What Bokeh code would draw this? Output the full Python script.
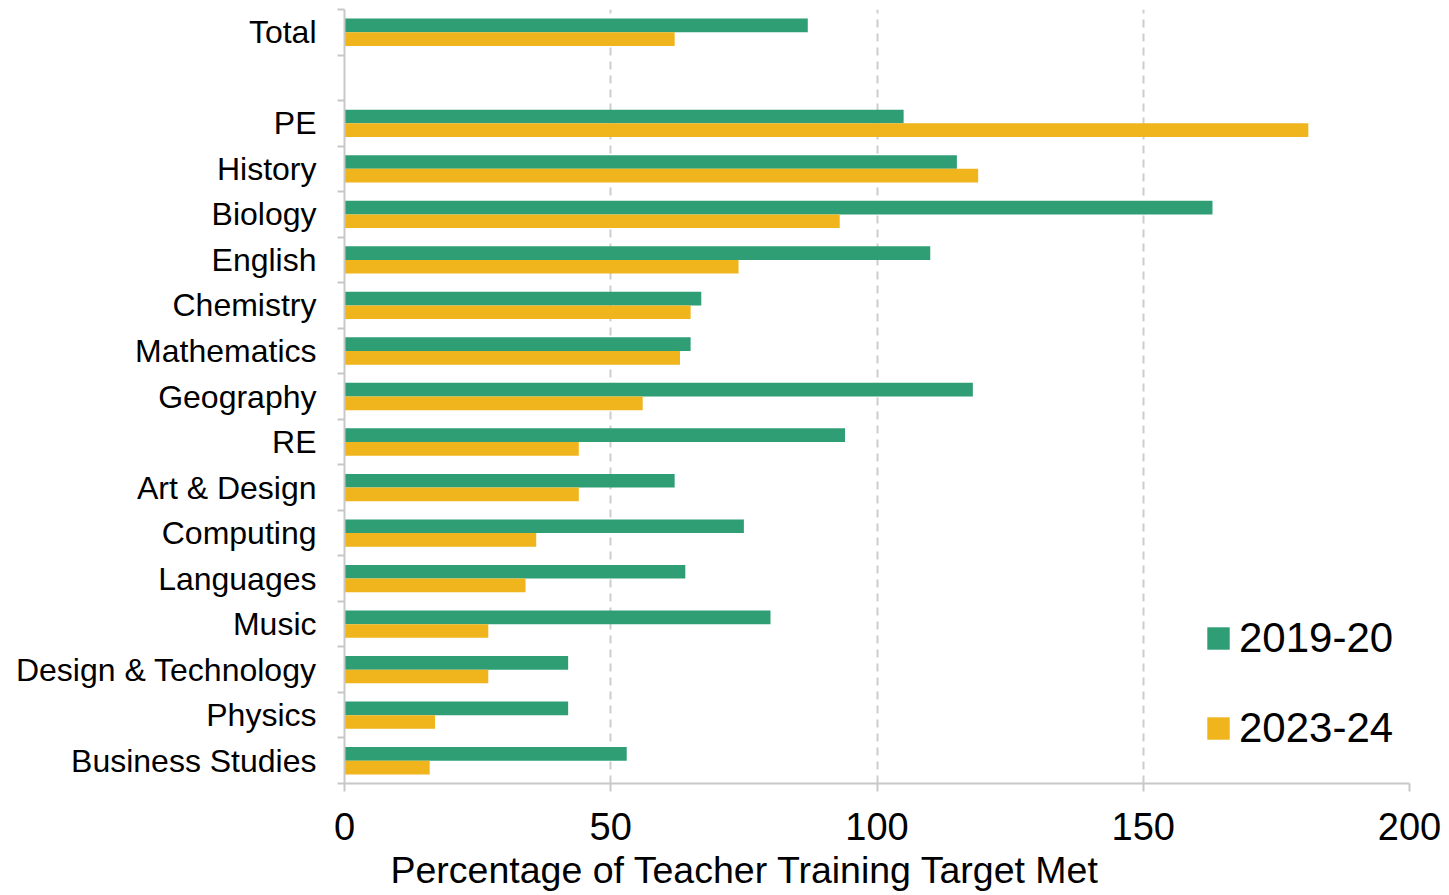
from bokeh.plotting import figure
from bokeh.models import ColumnDataSource, FixedTicker, Range1d, Title, Legend, LegendItem
from bokeh.transform import dodge
from bokeh.embed import file_html
from bokeh.resources import INLINE

# Subjects, listed top to bottom beneath the overall total
subjects = ["PE", "History", "Biology", "English", "Chemistry", "Mathematics",
            "Geography", "RE", "Art & Design", "Computing", "Languages", "Music",
            "Design & Technology", "Physics", "Business Studies"]
pct_2019_20 = [105, 115, 163, 110, 67, 65, 118, 94, 62, 75, 64, 80, 42, 42, 53]
pct_2023_24 = [181, 119, 93, 74, 65, 63, 56, 44, 44, 36, 34, 27, 27, 17, 16]
total_label = "Total"
total_2019_20 = 87
total_2023_24 = 62
series_names = ["2019-20", "2023-24"]
x_ticks = [0, 50, 100, 150, 200]
x_title = "Percentage of Teacher Training Target Met"

GREEN = "#2F9E74"
GOLD = "#F0B41C"
AXIS_GREY = "#C8C8C8"
FONT = "Liberation Sans"

# Row positions: subjects from n-1 down to 0, one empty row, then the total on top
n = len(subjects)
labels = [total_label] + subjects
pos = [n + 1] + [n - 1 - i for i in range(n)]
source = ColumnDataSource(dict(
    label=labels,
    pos=pos,
    a=[total_2019_20] + pct_2019_20,
    b=[total_2023_24] + pct_2023_24,
))

p = figure(width=1449, height=895, output_backend="svg", toolbar_location=None,
           x_range=Range1d(0, 200), y_range=Range1d(-0.5, n + 1.5),
           min_border_left=344, min_border_right=40,
           min_border_top=9, min_border_bottom=111)
p.outline_line_color = None
p.background_fill_color = "white"

r1 = p.hbar(y=dodge("pos", 0.15), right="a", left=0, height=0.3,
            source=source, fill_color=GREEN, line_color=None)
r2 = p.hbar(y=dodge("pos", -0.15), right="b", left=0, height=0.3,
            source=source, fill_color=GOLD, line_color=None)

# x axis
xa = p.xaxis[0]
xa.ticker = FixedTicker(ticks=x_ticks)
xa.axis_line_color = AXIS_GREY
xa.axis_line_width = 2
xa.major_tick_line_color = AXIS_GREY
xa.major_tick_line_width = 2
xa.major_tick_in = 0
xa.major_tick_out = 8
xa.minor_tick_line_color = None
xa.major_label_text_font = FONT
xa.major_label_text_font_size = "38px"
xa.major_label_text_color = "black"
xa.major_label_standoff = 21

# y axis: labels at row centres, tick marks between rows
ya = p.yaxis[0]
ya.ticker = FixedTicker(ticks=pos, minor_ticks=[k - 0.5 for k in range(n + 3)])
ya.major_label_overrides = {int(v): t for v, t in zip(pos, labels)}
ya.axis_line_color = AXIS_GREY
ya.axis_line_width = 2
ya.major_tick_line_color = None
ya.major_tick_in = 0
ya.major_tick_out = 0
ya.minor_tick_line_color = AXIS_GREY
ya.minor_tick_line_width = 2
ya.minor_tick_in = 0
ya.minor_tick_out = 7
ya.major_label_text_font = FONT
ya.major_label_text_font_size = "32px"
ya.major_label_text_color = "black"
ya.major_label_standoff = 21

# dashed vertical gridlines
p.xgrid.ticker = FixedTicker(ticks=x_ticks[1:])
p.xgrid.grid_line_color = "#CDCDCD"
p.xgrid.grid_line_width = 2
p.xgrid.grid_line_dash = "8 6"
p.ygrid.visible = False

# axis title, set slightly left of the plot centre
p.add_layout(Title(text=x_title, align="left", offset=46,
                   text_font=FONT, text_font_size="37.5px",
                   text_font_style="normal", text_color="black",
                   standoff=9), "below")

legend = Legend(items=[LegendItem(label=series_names[0], renderers=[r1]),
                       LegendItem(label=series_names[1], renderers=[r2])],
                location=(860, 31), orientation="vertical",
                glyph_width=28, glyph_height=28, label_standoff=7,
                label_text_font=FONT, label_text_font_size="42px",
                label_text_color="black", spacing=42, padding=0, margin=0,
                border_line_color=None, background_fill_alpha=0)
p.add_layout(legend)

open("out.html", "w").write(file_html(p, INLINE))
